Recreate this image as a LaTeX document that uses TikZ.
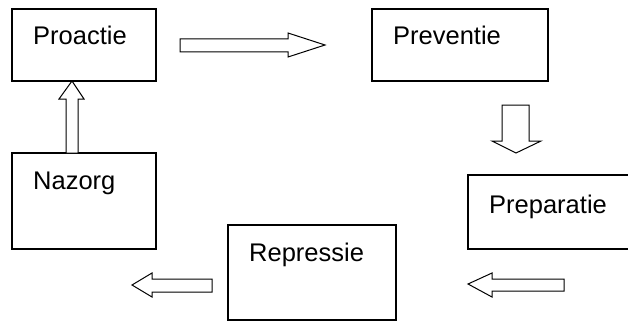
\documentclass[tikz,border=0pt]{standalone}
\usepackage{fontspec}
\setmainfont{Liberation Sans}
\begin{document}
\begin{tikzpicture}[x=1pt,y=-1pt,
  box/.style={draw=black,line width=1.1pt,fill=white},
  lbl/.style={anchor=base west,inner sep=0pt,font=\fontsize{25.5}{30}\selectfont},
  barrow/.style={draw=black,line width=1pt,fill=white,line join=miter}]
\useasboundingbox (0,0) rectangle (628,321);
\clip (0,0) rectangle (628,321);
% boxes
\draw[box] (12,9) rectangle (156,81);
\draw[box] (372,9) rectangle (548,81);
\draw[box] (12,153) rectangle (156,249);
\draw[box] (228,225) rectangle (396,320);
\draw[box] (640,175) -- (468,175) -- (468,249) -- (640,249);
% labels
\node[lbl] (proactie) at (33,45) {Proactie};
\node[lbl] (preventie) at (393,45) {Preventie};
\node[lbl] (nazorg) at (33,189) {Nazorg};
\node[lbl] (repressie) at (249,261) {Repressie};
\node[lbl] (preparatie) at (489,213) {Preparatie};
% block arrows
\draw[barrow] (180,39) -- (288,39) -- (288,33) -- (325,45) -- (288,57) -- (288,52) -- (180,52) -- cycle;
\draw[barrow] (66,153) -- (66,99) -- (59,99) -- (72,81) -- (84,99) -- (78,99) -- (78,153) -- cycle;
\draw[barrow] (502,105) -- (529,105) -- (529,141) -- (541,141) -- (516,153) -- (492,141) -- (502,141) -- cycle;
\draw[barrow] (212,279) -- (152,279) -- (152,273) -- (132,285) -- (152,297) -- (152,292) -- (212,292) -- cycle;
\draw[barrow] (564,279) -- (492,279) -- (492,273) -- (468,284) -- (492,297) -- (492,291) -- (564,291) -- cycle;
\end{tikzpicture}
\end{document}
